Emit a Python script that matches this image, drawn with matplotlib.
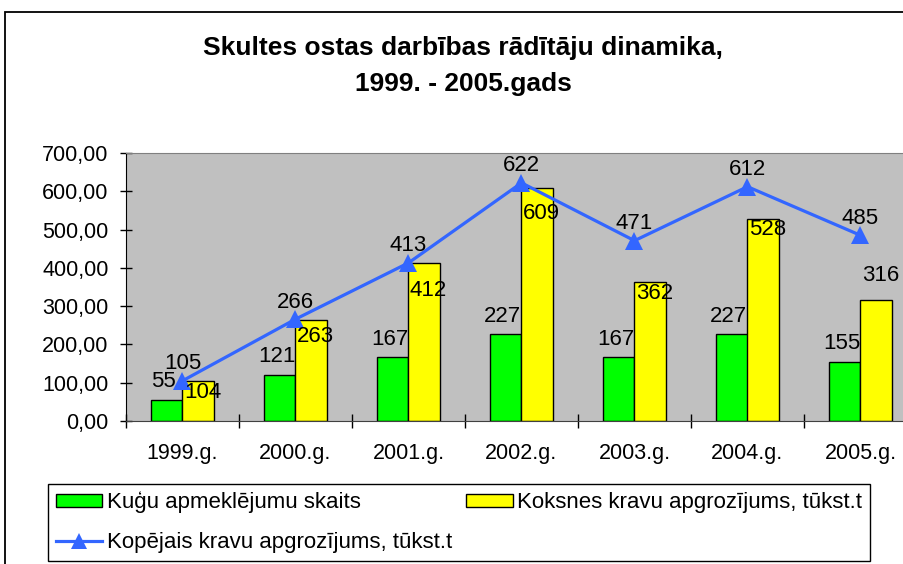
import matplotlib.pyplot as plt
import numpy as np
from matplotlib.patches import Rectangle
from matplotlib.ticker import FuncFormatter

years = ['1999.g.', '2000.g.', '2001.g.', '2002.g.', '2003.g.', '2004.g.', '2005.g.']
ship_visits = [55, 121, 167, 227, 167, 227, 155]
timber_cargo = [104, 263, 412, 609, 362, 528, 316]
total_cargo = [105, 266, 413, 622, 471, 612, 485]

label_names = ['Kuģu apmeklējumu skaits',
               'Koksnes kravu apgrozījums, tūkst.t',
               'Kopējais kravu apgrozījums, tūkst.t']

# yellow labels were moved by hand in the original (pixel offsets from bar top)
timber_label_dy = [-11, -16, -27, -26, -11, -11, 25]

plt.rcParams['font.family'] = ['Liberation Sans', 'DejaVu Sans']

fig = plt.figure(figsize=(9.04, 5.64), dpi=100)
W, H = 904, 564
ax = fig.add_axes([126 / W, (H - 421) / H, 791 / W, 268 / H])

x = np.arange(len(years))
bw = 0.283
px = 72 / 100  # pixels -> points

ax.bar(x - bw / 2, ship_visits, bw, color='#00ff00', edgecolor='black', linewidth=1, zorder=2)
ax.bar(x + bw / 2, timber_cargo, bw, color='#ffff00', edgecolor='black', linewidth=1, zorder=2)
ax.plot(x, total_cargo, color='#3366ff', linewidth=2.3, marker='^', markersize=13,
        markeredgewidth=0, zorder=3)

for i in range(len(years)):
    ax.annotate(str(ship_visits[i]), (x[i] - bw / 2, ship_visits[i]),
                xytext=(-3 * px, 18 * px), textcoords='offset points',
                ha='center', va='center', fontsize=16, zorder=4)
    ax.annotate(str(timber_cargo[i]), (x[i] + bw / 2, timber_cargo[i]),
                xytext=(4 * px, timber_label_dy[i] * px), textcoords='offset points',
                ha='center', va='center', fontsize=16, zorder=4)
    ax.annotate(str(total_cargo[i]), (x[i], total_cargo[i]),
                xytext=(0, 17 * px), textcoords='offset points',
                ha='center', va='center', fontsize=16, zorder=4)

ax.set_facecolor('#c0c0c0')
ax.set_xlim(-0.5, len(years) - 0.5)
ax.set_ylim(0, 700)
ax.set_yticks(np.arange(0, 701, 100))
ax.yaxis.set_major_formatter(FuncFormatter(lambda v, p: f'{v:.2f}'.replace('.', ',')))
ax.set_xticks(x)
ax.set_xticklabels(years)
ax.set_xticks(np.arange(-0.5, len(years), 1), minor=True)
ax.tick_params(axis='x', which='major', length=0, pad=16, labelsize=15.5)
ax.tick_params(axis='x', which='minor', direction='inout', length=10, width=1)
ax.tick_params(axis='y', direction='inout', length=9, width=1, pad=8, labelsize=15.5)

ax.spines['top'].set_color('#808080')
ax.spines['right'].set_visible(False)
ax.spines['left'].set_color('black')
ax.spines['bottom'].set_color('#404040')

fig.text(463 / W, 1 - 66 / H, 'Skultes ostas darbības rādītāju dinamika,\n1999. - 2005.gads',
         ha='center', va='center', fontsize=19, fontweight='bold', linespacing=1.6)

# chart border (cropped on the right and bottom in the original)
fig.patches.append(Rectangle((5 / W, -0.1), 1.2, (H - 12) / H + 0.1, transform=fig.transFigure,
                             fill=False, edgecolor='black', linewidth=1.3))

handles = [Rectangle((0, 0), 1, 1, facecolor='#00ff00', edgecolor='black'),
           plt.Line2D([], [], color='#3366ff', linewidth=2.3, marker='^', markersize=11,
                      markeredgewidth=0),
           Rectangle((0, 0), 1, 1, facecolor='#ffff00', edgecolor='black')]
leg = fig.legend(handles, [label_names[0], label_names[2], label_names[1]], ncol=2,
                 loc='lower left', bbox_to_anchor=(48 / W, 3 / H, 822 / W, 74 / H),
                 mode='expand', fontsize=16, frameon=True, fancybox=False,
                 edgecolor='black', framealpha=1, borderaxespad=0, borderpad=0.35,
                 handlelength=2.1, handleheight=0.5, handletextpad=0.2,
                 labelspacing=0.85)
leg.get_frame().set_linewidth(1)

fig.savefig('out.png', dpi=100)
